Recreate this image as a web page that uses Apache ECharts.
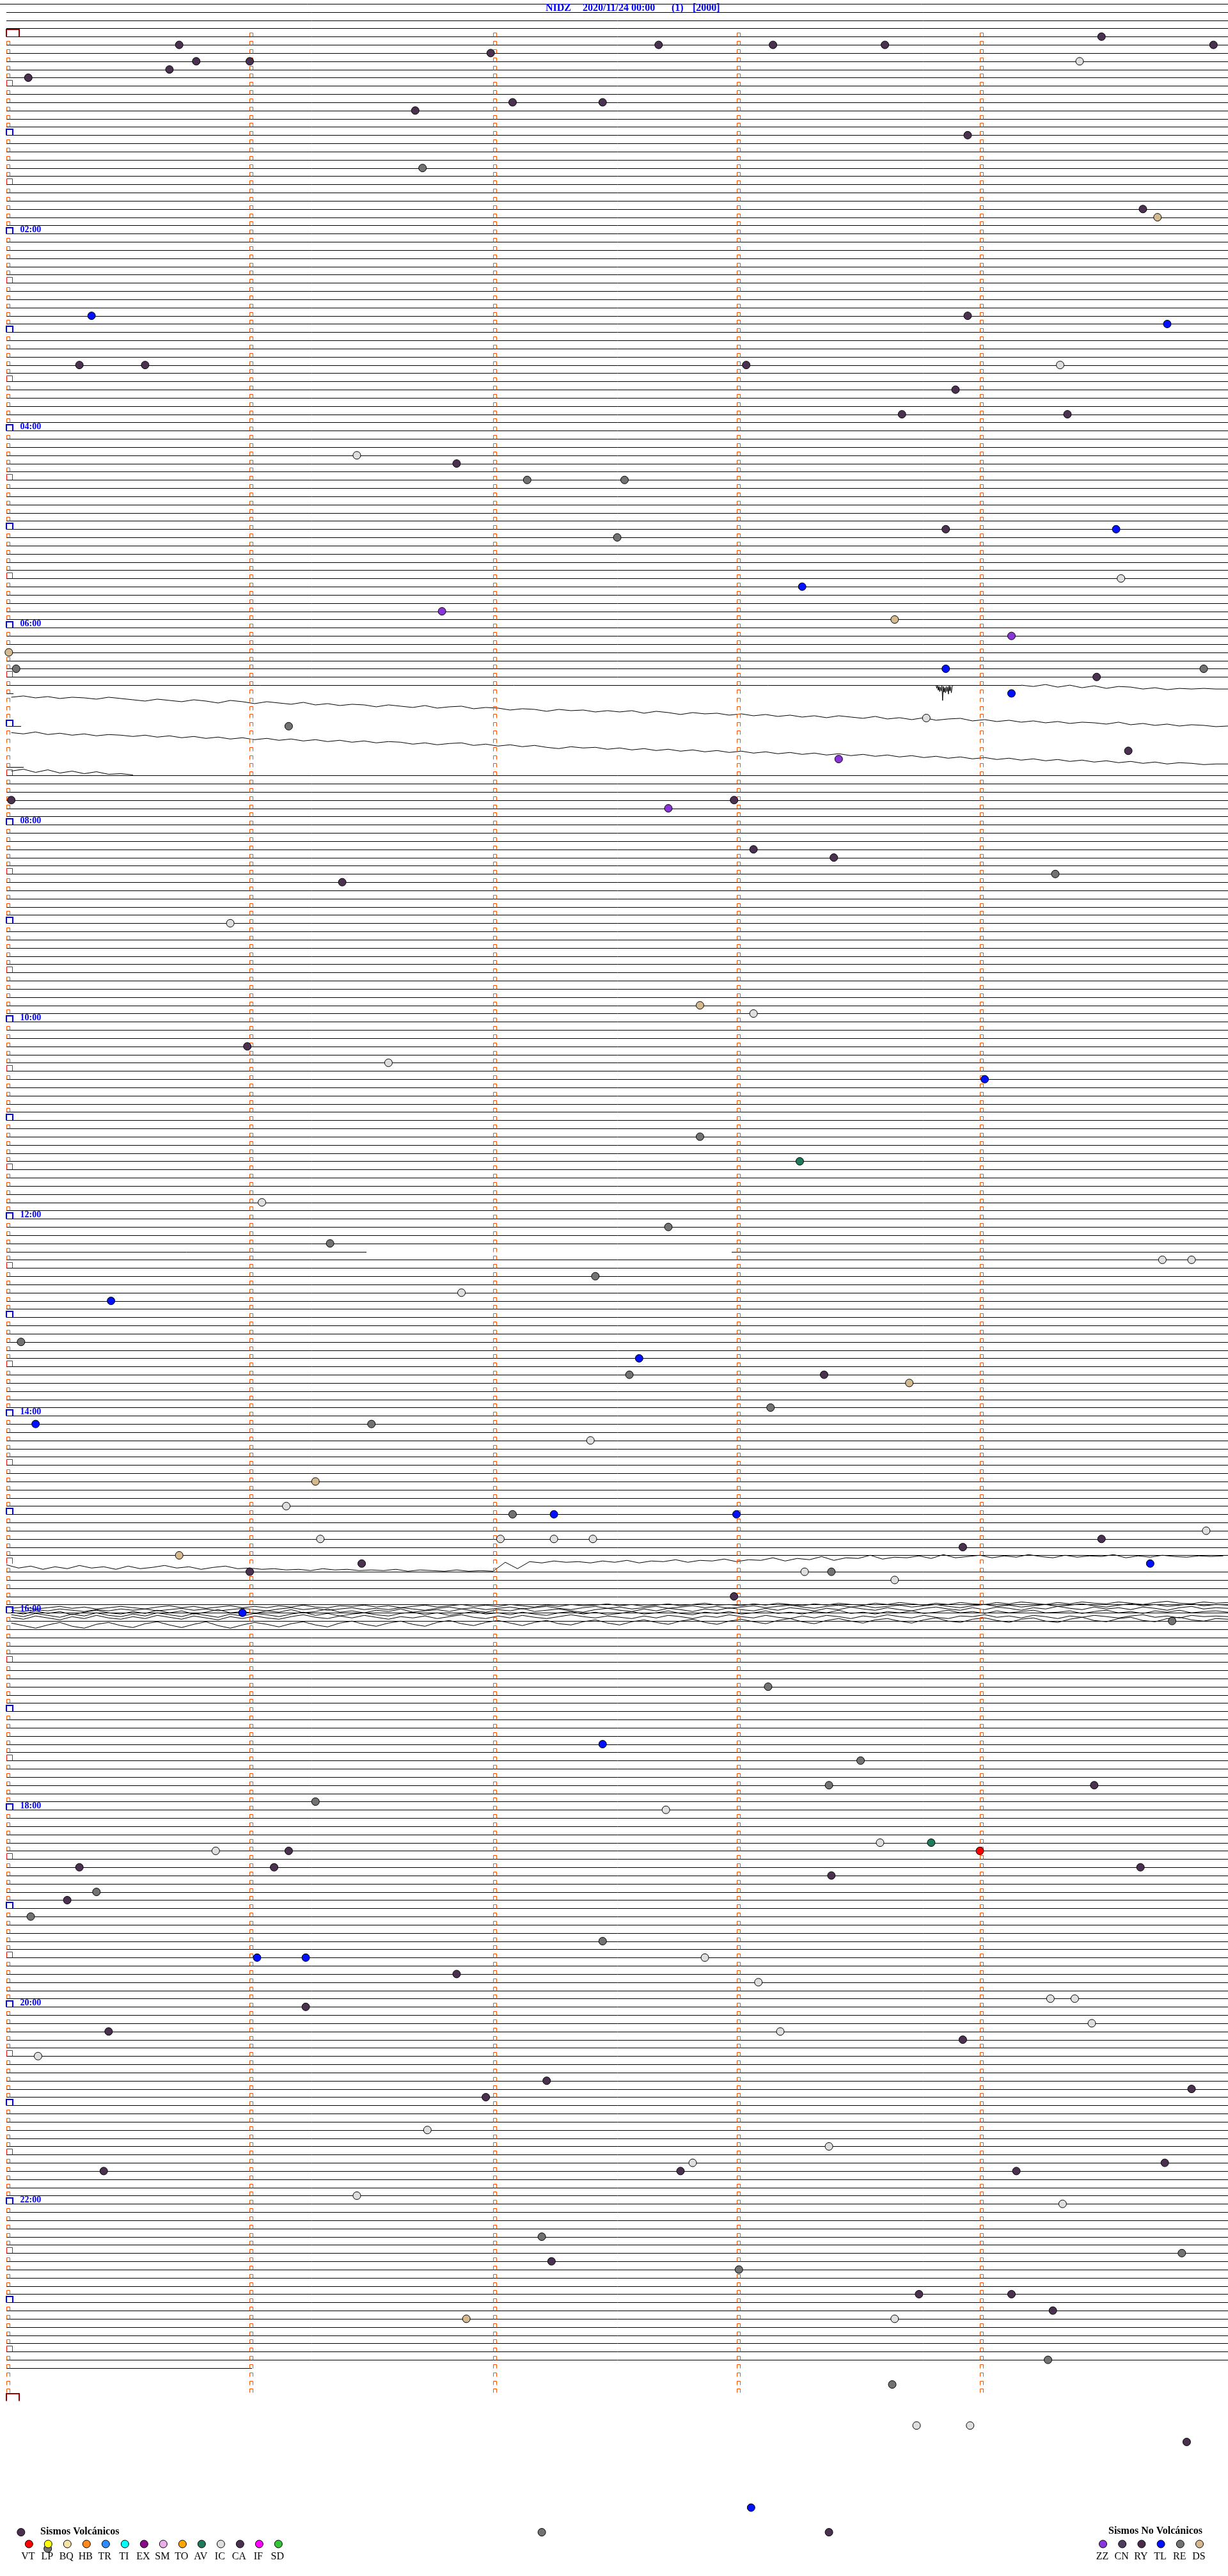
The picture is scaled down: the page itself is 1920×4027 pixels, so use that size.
<!DOCTYPE html>
<html>
<head>
<meta charset="utf-8">
<script src="https://cdn.jsdelivr.net/npm/echarts@6/dist/echarts.min.js"></script>
<style>
html,body{margin:0;padding:0;background:#fff;}
#chart{width:1920px;height:4027px;}
</style>
</head>
<body>
<div id="chart"></div>
<script>
// ---------------- DATA ----------------
const TITLE_PARTS = ['NIDZ', '2020/11/24 00:00', '(1)', '[2000]'];
const MINUTES_PER_LINE = 5;
const LAST_MARKED_LINE = 287;          // 23:55 line
const TIME_LABELS = ['02:00','04:00','06:00','08:00','10:00','12:00','14:00','16:00','18:00','20:00','22:00'];
const TIME_LABEL_LINES = [24,48,72,96,120,144,168,192,216,240,264];

// lines (5-minute rows) that are not drawn as a full flat trace
const LINES_WITHOUT_FULL_TRACE = [79,80,81,82,83,84,85,86,87,88,89,148,186,284];
// partial flat trace pieces: [line, startMinute, endMinute]
const PARTIAL_TRACES = [[79,0,4.17],[80,0,0.03],[84,0,0.06],[89,0,0.07],[148,0,1.48],[148,2.98,5.02],[284,0,1.01]];

// waveform amplitudes (counts, sampled every 0.05 min)
const WAVE_STEP = 0.05;
const AMP_PER_LINE = 12.833;
const wave79 = [0,2,-1,3,0,4,1,5,2,3,6,4,7,5,6,5,6,6];
const wave80 = [6,4,7,5,8,6,7,9,6,8,10,12,9,11,13,10,12,15,11,13,16,13,15,17,14,18,16,19,17,18,21,18,20,22,19,23,21,20,24,22,23,26,24,25,28,25,27,26,29,27,29,27,31,28,30,33,30,32,31,34,32,35,33,36,34,37,35,38,35,37,39,36,40,38,41,38,42,40,39,43,41,44,42,45,43,46,44,47,45,46,48,45,49,47,50,48,51,49,50,52,51];
const wave84 = [10,12,9,13,11,14,12,15,13,14,16,14,17,15,18,16,19,17,20,18,21,19,22,20,23,21,24,22,25,23,26,24,25,28,26,29,27,26,30,28,31,29,32,30,33,35,32,34,33,36,34,37,35,38,36,39,37,40,38,41,39,42,40,43,41,44,42,45,43,46,44,47,45,48,46,49,47,50,48,51,49,52,50,53,51,54,52,55,53,56,54,57,55,58,56,59,57,58,60,59,59];
const wave89 = [6,3,8,4,9,6,10,7,11,10,12];
const wave186 = [2,7,4,9,5,8,3,7,5,9,4,8,6,3,7,5,9,6,4,8,7,9,8,10,9,11,8,10,9,11,10,11,9,12,10,11,12,10,12,11,12,-2,8,-3,-1,-4,-2,-3,-1,-4,-2,-5,-1,-4,-3,-6,-2,-5,-4,-7,-3,-6,-5,-9,-4,-8,-6,-11,-5,-9,-8,-13,-7,-10,-9,-12,-8,-14,-9,-11,-13,-9,-12,-10,-14,-11,-9,-13,-10,-12,-11,-14,-9,-12,-10,-13,-11,-10,-12,-11,-12];
const wave192a = [-7,-9,-6,-8,-10,-7,-9,-6,-8,-10,-8,-6,-9,-11,-8,-10,-7,-9,-11,-8,-10,-8,-11,-9,-12,-9,-8,-11,-10,-12,-9,-11,-8,-10,-12,-9,-11,-13,-10,-12,-10,-13,-11,-9,-12,-10,-13,-11,-12,-14,-11,-13,-10,-12,-14,-11,-13,-15,-12,-13,-11,-14,-12,-15,-13,-11,-14,-12,-15,-13,-12,-15,-13,-16,-14,-12,-15,-13,-16,-14,-13,-16,-14,-17,-15,-13,-16,-14,-17,-15,-14,-17,-15,-13,-16,-18,-15,-14,-17,-15,-16];
const wave192b = [-4,-2,-5,-3,-6,-4,-2,-5,-3,-6,-4,-6,-3,-5,-7,-4,-6,-3,-5,-7,-5,-3,-6,-8,-5,-7,-4,-6,-8,-5,-7,-5,-8,-6,-4,-7,-9,-6,-8,-5,-7,-9,-6,-8,-10,-7,-5,-8,-10,-7,-9,-6,-8,-10,-7,-9,-11,-8,-10,-7,-9,-11,-8,-10,-12,-9,-7,-10,-12,-9,-11,-8,-10,-12,-9,-11,-13,-10,-8,-11,-13,-10,-12,-9,-11,-13,-10,-12,-14,-11,-9,-12,-14,-11,-13,-10,-12,-14,-11,-13,-12];
const wave192c = [-1,2,-3,1,-2,3,-1,-4,0,2,-2,1,-4,0,-3,2,-1,-5,0,-2,1,-3,-1,-5,0,-2,-6,-1,-3,0,-4,-2,-6,-1,-3,-5,-2,-6,-3,-1,-5,-3,-7,-2,-4,-6,-3,-1,-5,-7,-4,-2,-6,-3,-7,-5,-2,-6,-4,-8,-5,-3,-7,-4,-8,-6,-3,-7,-5,-9,-6,-4,-8,-5,-3,-7,-9,-6,-4,-8,-5,-9,-7,-4,-8,-6,-10,-7,-5,-9,-6,-8,-5,-9,-7,-4,-8,-10,-6,-8,-7];
const wave192d = [3,6,1,4,7,2,5,0,4,6,2,5,0,3,6,1,4,7,2,5,1,3,6,2,-1,4,1,5,2,0,3,5,1,-1,3,0,4,1,-2,2,0,3,-1,2,4,0,-2,2,-1,3,1,-2,2,0,-3,1,3,-1,1,-2,2,0,-3,1,-1,2,-2,0,-4,1,-1,2,-2,0,-3,1,-1,-4,0,-2,1,-3,0,-2,-4,0,-1,-3,1,-2,-4,0,-2,1,-3,-1,-4,0,-2,-3,-1];
const wave192e = [7,10,5,8,11,6,9,4,8,10,6,9,4,7,10,5,8,11,6,9,5,8,10,6,3,7,9,5,8,4,7,10,6,8,5,9,6,3,7,9,5,8,4,7,9,6,3,6,8,5,7,9,5,8,4,6,9,5,7,3,6,8,4,7,9,5,8,4,6,9,5,7,3,6,8,4,7,9,5,6,3,7,5,8,4,6,9,5,7,4,6,8,5,3,7,5,8,4,6,5,6];
const wave192f = [16,20,24,19,15,21,24,18,15,20,23,17,14,19,23,18,14,20,24,19,15,18,22,17,14,19,22,16,13,18,21,16,13,18,21,15,12,17,20,15,12,16,20,15,12,17,19,14,11,16,19,14,11,15,18,13,10,15,18,13,10,14,17,12,9,14,17,12,9,13,16,11,9,13,16,11,8,13,15,10,8,12,15,10,8,13,15,10,7,12,14,9,7,12,14,9,7,11,13,9,10];
// [line, start minute, amplitudes]
const WAVE_TRACES = [
  [79, 4.17, wave79], [80, 0.02, wave80], [84, 0.02, wave84], [89, 0.02, wave89],
  [186, 0.0, wave186],
  [192, 0.02, wave192a], [192, 0.02, wave192b], [192, 0.02, wave192c],
  [192, 0.02, wave192d], [192, 0.02, wave192e], [192, 0.02, wave192f]
];
// burst on line 79
const spike79Min = [3.820,3.823,3.826,3.829,3.832,3.835,3.838,3.841,3.844,3.847,3.850,3.853,3.856,3.859,3.862,3.865,3.868,3.871,3.874,3.877,3.880,3.883,3.886,3.889];
const spike79Amp = [0,5,1,8,2,10,3,9,1,24,2,11,4,12,2,10,3,14,1,9,2,12,3,0];

// events: minutes since 00:00 and type code
const eventTime = [5.71,8.15,8.61,7.68,4.50,9.96,15.78,16.00,11.99,19.41,20.67,25.09,42.08,42.45,46.68,63.95,81.71,109.67,114.73,170.35,
173.95,179.77,200.30,200.57,203.04,204.33,218.90,233.68,234.36,256.44,261.85,272.14,272.54,307.51,303.86,304.56,338.27,334.58,351.79,358.65,
369.13,375.01,385.04,388.86,394.48,389.92,404.13,418.78,421.16,439.61,443.42,465.02,472.72,467.99,498.07,503.40,516.38,514.31,540.92,592.85,
598.07,615.99,626.57,639.02,672.85,688.26,711.05,727.72,736.33,749.75,749.87,757.42,766.87,770.43,795.06,807.60,818.36,817.56,823.71,838.14,
845.12,846.50,857.40,881.27,896.15,902.08,902.25,903.00,916.29,917.03,917.25,917.41,919.50,923.93,914.93,925.71,931.46,936.00,938.28,938.39,
934.70,943.65,952.99,960.97,969.79,1008.13,1042.45,1053.51,1068.38,1069.47,1076.27,1082.71,1105.86,1106.16,1103.59,1103.80,1109.00,1115.30,1116.10,1119.66,
1123.39,1130.37,1135.25,1145.10,1162.45,1171.03,1171.23,1172.87,1181.85,1188.09,1199.29,1199.39,1201.23,1214.46,1215.42,1218.18,1223.93,1230.13,1247.22,1256.97,
1254.87,1276.73,1288.38,1297.82,1299.76,1300.40,1302.77,1304.15,1316.44,1324.34,1342.20,1354.83,1357.24,1363.01,1378.75,1379.13,1389.30,1393.65,1391.89,1419.28,
1433.64,1458.74,1458.96,1469.85,1508.06,1522.20,1523.38,1520.06,1530.17];
const eventType = ['CA','CA','CA','CA','CA','CA','CA','CA','CA','IC','CA','CA','CA','CA','CA','CA','RE','CA','DS','TL',
'CA','TL','CA','CA','CA','IC','CA','CA','CA','IC','CA','RE','RE','RE','CA','TL','TL','IC','ZZ','DS',
'ZZ','DS','RE','TL','CA','RE','TL','IC','RE','CA','ZZ','CA','ZZ','CA','CA','CA','CA','RE','IC','DS',
'IC','CA','IC','TL','RE','AV','IC','RE','RE','IC','IC','RE','IC','TL','RE','TL','CA','RE','DS','RE',
'TL','RE','IC','DS','IC','RE','TL','TL','IC','IC','IC','IC','CA','CA','IC','DS','CA','CA','IC','RE',
'TL','IC','CA','TL','RE','RE','TL','RE','RE','CA','RE','IC','IC','CA','IC','AV','VT','CA','CA','CA',
'CA','RE','CA','RE','RE','TL','TL','IC','CA','IC','IC','IC','CA','IC','CA','IC','CA','IC','CA','CA',
'CA','IC','IC','IC','CA','CA','CA','CA','IC','IC','RE','RE','CA','RE','CA','CA','CA','IC','DS','RE',
'RE','IC','IC','CA','TL','RE','CA','CA','RE'];

// legend
const LEGEND_VOLCANIC_TITLE = 'Sismos Volcánicos';
const LEGEND_NONVOLCANIC_TITLE = 'Sismos No Volcánicos';
const volcanicCodes  = ['VT','LP','BQ','HB','TR','TI','EX','SM','TO','AV','IC','CA','IF','SD'];
const volcanicColors = ['#ff0000','#ffff00','#f3e3a6','#ff8a1c','#2a8cff','#00ffff','#8a0a8a','#ecaeea','#ffa500','#1f7a5b','#dedede','#4b3150','#ff00ff','#35c435'];
const nonVolcanicCodes  = ['ZZ','CN','RY','TL','RE','DS'];
const nonVolcanicColors = ['#8a35d8','#4c3d5e','#4a2c48','#0010ff','#727272','#d4b88e'];

// ---------------- BUILD ----------------
const FONT = '"Liberation Serif","Times New Roman",serif';
const colorOf = {};
volcanicCodes.forEach((c,i)=>colorOf[c]=volcanicColors[i]);
nonVolcanicCodes.forEach((c,i)=>colorOf[c]=nonVolcanicColors[i]);

// flat trace segments
const segData = [];
segData.push([-4, -0.0263, 5.03]);
for (let ln = -3; ln <= 283; ln++) {
  if (LINES_WITHOUT_FULL_TRACE.indexOf(ln) >= 0) continue;
  segData.push([ln, 0, 5.03]);
}
PARTIAL_TRACES.forEach(p => segData.push(p.slice()));

// minute markers: [minute, line, kind]
const markData = [];
for (let ln = 0; ln <= LAST_MARKED_LINE; ln++) {
  for (let m = 0; m < MINUTES_PER_LINE; m++) {
    let kind = 0;
    if (m === 0) {
      if (ln === 0) kind = 3;
      else if (ln % 12 === 0) kind = 1;
      else if (ln % 6 === 0) kind = 2;
    }
    markData.push([m, ln, kind]);
  }
}
markData.push([0, LAST_MARKED_LINE + 1, 3]);

const labelData = TIME_LABELS.map((t,i)=>[0, TIME_LABEL_LINES[i], t]);

const series = [];
series.push({
  type:'custom', name:'traces', silent:true, z:2,
  data: segData,
  dimensions:['line','s','e'],
  encode:{x:[1,2], y:0},
  renderItem:function(params, api){
    const ln = api.value(0), s = api.value(1), e = api.value(2);
    const p1 = api.coord([s, ln]), p2 = api.coord([e, ln]);
    const y = Math.round(p1[1]) + 0.5;
    return {type:'line', shape:{x1:Math.round(p1[0]), y1:y, x2:Math.round(p2[0]), y2:y}, style:{stroke:'#000', lineWidth:1}};
  }
});

const MARK_STYLE = [
  {w:5, h:6, c:'#ff5000', lw:1},
  {w:10, h:9, c:'#0000ff', lw:2},
  {w:9, h:9, c:'#ff0000', lw:1},
  {w:20, h:11, c:'#990000', lw:2}
];
series.push({
  type:'custom', name:'markers', silent:true, z:3,
  data: markData,
  dimensions:['m','line','kind'],
  encode:{x:0, y:1},
  renderItem:function(params, api){
    const p = api.coord([api.value(0), api.value(1)]);
    const st = MARK_STYLE[api.value(2)];
    const off = st.lw === 1 ? 0.5 : 0;
    const x0 = Math.round(p[0]) + off, x1 = x0 + st.w;
    const yb = Math.round(p[1]) + 0.5;
    const yt = Math.round(p[1]) - st.h + off;
    return {type:'polyline', shape:{points:[[x0,yb],[x0,yt],[x1,yt],[x1,yb]]}, style:{stroke:st.c, lineWidth:st.lw, fill:null}};
  }
});

series.push({
  type:'custom', name:'timeLabels', silent:true, z:4,
  data: labelData,
  encode:{x:0, y:1},
  renderItem:function(params, api){
    const p = api.coord([api.value(0), api.value(1)]);
    return {type:'text', x:p[0] + 21.5, y:p[1] - 6, style:{text:labelData[params.dataIndex][2], font:'bold 14px ' + FONT, fill:'#0000ff', verticalAlign:'middle', align:'left'}};
  }
});

WAVE_TRACES.forEach(w => {
  const ln = w[0], st = w[1], amp = w[2];
  series.push({
    type:'line', silent:true, z:2, showSymbol:false, symbol:'none', animation:false,
    lineStyle:{color:'#000', width:1},
    data: amp.map((a,k) => [st + k*WAVE_STEP, ln + a/AMP_PER_LINE])
  });
});
series.push({
  type:'line', silent:true, z:2, showSymbol:false, symbol:'none',
  lineStyle:{color:'#000', width:1},
  data: spike79Min.map((t,k) => [t, 79 + spike79Amp[k]/AMP_PER_LINE])
});

const typesUsed = [];
eventType.forEach(t => { if (typesUsed.indexOf(t) < 0) typesUsed.push(t); });
typesUsed.forEach(tp => {
  const d = [];
  eventTime.forEach((t,i) => {
    if (eventType[i] !== tp) return;
    const ln = Math.floor(t / MINUTES_PER_LINE + 1e-9);
    d.push([t - ln*MINUTES_PER_LINE, ln]);
  });
  series.push({
    type:'scatter', name:tp, z:6, symbol:'circle', symbolSize:12,
    itemStyle:{color:colorOf[tp], borderColor:'#000', borderWidth:1, opacity:1},
    data:d
  });
});

// graphics: title and legend
const graphic = [];
const titleX = [853, 911, 1050, 1083];
TITLE_PARTS.forEach((t,i) => graphic.push({type:'text', x:titleX[i], y:13, z:10,
  style:{text:t, font:'bold 16px ' + FONT, fill:'#0000ff', verticalAlign:'middle', align:'left'}}));

graphic.push({type:'text', x:63, y:3958, z:10, style:{text:LEGEND_VOLCANIC_TITLE, font:'bold 16px ' + FONT, fill:'#000', verticalAlign:'middle', align:'left'}});
volcanicCodes.forEach((c,i) => {
  const cx = 45.3 + 30.0*i;
  graphic.push({type:'circle', z:10, shape:{cx:cx, cy:3977, r:6}, style:{fill:volcanicColors[i], stroke:'#000', lineWidth:1}});
  graphic.push({type:'text', x:cx - 1.5, y:3997, z:10, style:{text:c, font:'16px ' + FONT, fill:'#000', verticalAlign:'middle', align:'center'}});
});
graphic.push({type:'text', x:1733, y:3957, z:10, style:{text:LEGEND_NONVOLCANIC_TITLE, font:'bold 16px ' + FONT, fill:'#000', verticalAlign:'middle', align:'left'}});
nonVolcanicCodes.forEach((c,i) => {
  const cx = 1724.5 + 30.2*i;
  graphic.push({type:'circle', z:10, shape:{cx:cx, cy:3977, r:6}, style:{fill:nonVolcanicColors[i], stroke:'#000', lineWidth:1}});
  graphic.push({type:'text', x:cx - 1, y:3997, z:10, style:{text:c, font:'16px ' + FONT, fill:'#000', verticalAlign:'middle', align:'center'}});
});

const chart = echarts.init(document.getElementById('chart'), null, {renderer:'canvas'});
chart.setOption({
  backgroundColor:'#ffffff',
  animation:false,
  grid:{left:0, right:0, top:0, bottom:0, containLabel:false},
  xAxis:{type:'value', min:-0.02628, max:5.01971, show:false, splitLine:{show:false}},
  yAxis:{type:'value', min:-4.465, max:309.33, inverse:true, show:false, splitLine:{show:false}},
  tooltip:{show:false},
  graphic:graphic,
  series:series
});
</script>
</body>
</html>
